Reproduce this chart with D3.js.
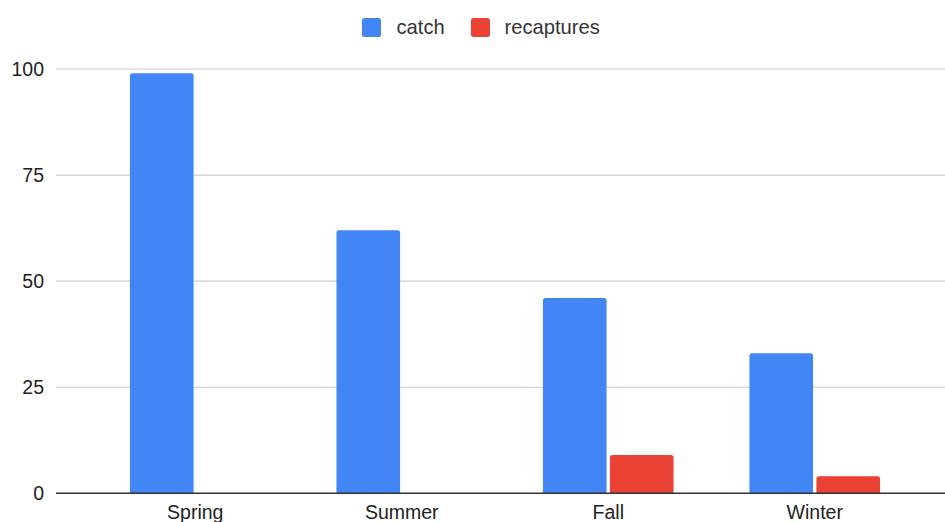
<!DOCTYPE html>
<html>
<head>
<meta charset="utf-8">
<script src="https://cdn.jsdelivr.net/npm/d3@7"></script>
<style>
  html, body { margin: 0; padding: 0; background: #fff; }
  svg { display: block; font-family: "Liberation Sans", Arial, sans-serif; }
</style>
</head>
<body>
<svg id="chart" width="945" height="522"></svg>
<script>
// Seasonal catch vs. recaptures
const seasons = ["Spring", "Summer", "Fall", "Winter"];
const seriesNames = ["catch", "recaptures"];
const catchValues = [99, 62, 46, 33];
const recaptureValues = [0, 0, 9, 4];
const yTicks = [0, 25, 50, 75, 100];
const seriesColors = ["#4285f4", "#ea4335"];

const rows = seasons.map((s, i) => ({ season: s, values: [catchValues[i], recaptureValues[i]] }));

const W = 945, H = 522;
const gridLeft = 56, gridRight = 945;
const svg = d3.select("#chart");

const y = d3.scaleLinear().domain([0, 100]).range([493.3, 69]);
const x0 = d3.scaleBand().domain(seasons).range([92, 918]).paddingInner(0).paddingOuter(0);
const groupW = 130.6;
const x1 = d3.scaleBand().domain(seriesNames).range([-groupW / 2, groupW / 2]).paddingInner(0.05);
const color = d3.scaleOrdinal().domain(seriesNames).range(seriesColors);

// horizontal gridlines
svg.append("g")
  .selectAll("line")
  .data(yTicks.filter(t => t !== 0))
  .join("line")
  .attr("x1", gridLeft).attr("x2", gridRight)
  .attr("y1", d => y(d)).attr("y2", d => y(d))
  .attr("stroke", "#cccccc").attr("stroke-width", 1.2);

// y axis labels
const yAxis = d3.axisLeft(y).tickValues(yTicks).tickSize(0).tickPadding(0);
const yg = svg.append("g").attr("transform", "translate(44,0)").call(yAxis);
yg.select(".domain").remove();
yg.selectAll("text")
  .attr("font-size", 19.5)
  .attr("fill", "#222")
  .attr("font-family", "Liberation Sans, Arial, sans-serif");

// bars with slightly rounded tops
function barPath(x, w, top, bottom, r) {
  const h = bottom - top;
  if (h <= 0) return "";
  const rr = Math.min(r, h, w / 2);
  return `M${x},${bottom}V${top + rr}Q${x},${top} ${x + rr},${top}H${x + w - rr}Q${x + w},${top} ${x + w},${top + rr}V${bottom}Z`;
}

const groups = svg.append("g")
  .selectAll("g")
  .data(rows)
  .join("g")
  .attr("transform", d => `translate(${x0(d.season) + x0.bandwidth() / 2},0)`);

groups.selectAll("path")
  .data(d => d.values.map((v, i) => ({ key: seriesNames[i], value: v })))
  .join("path")
  .attr("d", d => barPath(x1(d.key), x1.bandwidth(), y(d.value), y(0), 2.5))
  .attr("fill", d => color(d.key));

// baseline axis
const xAxis = d3.axisBottom(x0).tickSize(0).tickPadding(0);
const xg = svg.append("g").attr("transform", `translate(0,${y(0)})`).call(xAxis);
xg.select(".domain").remove();
xg.selectAll("text")
  .attr("dy", null)
  .attr("y", 26)
  .attr("font-size", 19.5)
  .attr("fill", "#222")
  .attr("font-family", "Liberation Sans, Arial, sans-serif");
svg.append("line")
  .attr("x1", gridLeft).attr("x2", gridRight)
  .attr("y1", y(0)).attr("y2", y(0))
  .attr("stroke", "#333").attr("stroke-width", 1.5);

// legend
const legendItems = [
  { name: "catch", sx: 362, tx: 396.5 },
  { name: "recaptures", sx: 471, tx: 504.5 }
];
const lg = svg.append("g");
lg.selectAll("rect")
  .data(legendItems)
  .join("rect")
  .attr("x", d => d.sx).attr("y", 18)
  .attr("width", 19).attr("height", 19)
  .attr("rx", 2.5)
  .attr("fill", d => color(d.name));
lg.selectAll("text")
  .data(legendItems)
  .join("text")
  .attr("x", d => d.tx).attr("y", 33.5)
  .attr("font-size", 20.2)
  .attr("fill", "#333")
  .text(d => d.name);
</script>
</body>
</html>
